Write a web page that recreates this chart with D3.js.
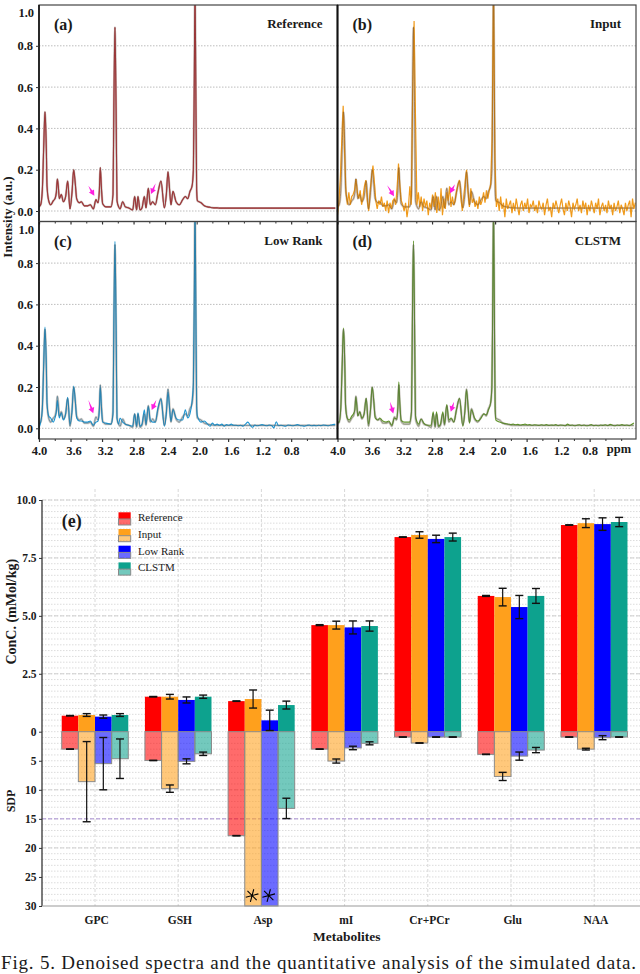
<!DOCTYPE html>
<html>
<head>
<meta charset="utf-8">
<script src="https://cdn.jsdelivr.net/npm/d3@7"></script>
<style>
html, body { margin: 0; padding: 0; background: #fff; overflow: hidden; }
text { font-family: "Liberation Serif", serif; fill: #1a1a1a; }
</style>
</head>
<body>
<div id="chart"></div>
<script>
// spectra
const peakPpm = [
	4.00,3.979,3.958,3.941,3.924,3.907,3.898,3.877,3.852,3.818,
	3.797,3.78,3.767,3.755,3.742,3.717,3.691,3.662,3.636,3.607,
	3.581,3.56,3.539,3.522,3.488,3.463,3.425,3.382,3.349,3.31,
	3.277,3.251,3.234,3.222,3.209,3.192,3.15,3.086,3.061,3.05,
	3.036,3.022,3.01,2.989,2.972,2.938,2.904,2.862,2.811,2.786,
	2.761,2.744,2.718,2.693,2.663,2.642,2.613,2.587,2.558,2.524,
	2.49,2.452,2.409,2.384,2.363,2.342,2.325,2.30,2.261,2.219,
	2.177,2.143,2.113,2.084,2.058,2.041,2.03,2.02,2.01,1.999,
	1.99,1.944,1.902
];
const tailPpm = [
	1.86,1.83,1.80,1.77,1.74,1.71,1.68,1.65,1.62,1.59,
	1.56,1.53,1.50,1.47,1.44,1.41,1.38,1.35,1.32,1.29,
	1.26,1.23,1.20,1.17,1.14,1.11,1.08,1.05,1.02,0.99,
	0.96,0.93,0.90,0.87,0.84,0.81,0.78,0.75,0.72,0.69,
	0.66,0.63,0.60,0.57,0.54,0.51,0.48,0.45,0.42,0.39,
	0.36,0.33,0.30,0.27,0.24
];
const ppm = peakPpm.concat(tailPpm);

const referenceVals = [
	.02,.03,.10,.30,.48,.30,.12,.05,.03,.05,
	.06,.09,.155,.12,.06,.08,.045,.07,.145,.01,
	.09,.20,.13,.06,.04,.045,.025,.025,.03,.01,
	.055,.04,.10,.21,.12,.035,.02,.02,.08,.5,
	.89,.5,.05,.02,.01,.045,.02,.015,.005,.07,
	.005,.07,.005,.015,.07,.015,.11,.03,.045,.03,
	.09,.145,.015,.08,.19,.10,.03,.095,.045,.03,
	.055,.07,.06,.095,.12,.20,.6,1.08,.6,.10,
	.05,.04,.025,
	.02,.018,.016,.015,.015,.014,.014,.014,.014,.014,
	.014,.014,.014,.014,.014,.014,.014,.014,.014,.014,
	.014,.014,.014,.014,.014,.014,.014,.014,.014,.014,
	.014,.014,.014,.014,.014,.014,.014,.014,.014,.014,
	.014,.014,.014,.014,.014,.014,.014,.014,.014,.014,
	.014,.014,.014,.014,.014
];
const lowRankVals = [
	.00,.03,.09,.30,.49,.30,.12,.06,.05,.03,
	.05,.08,.135,.09,.05,.075,.04,.07,.15,.02,
	.08,.205,.13,.05,.035,.035,.03,.03,.035,.015,
	.03,.035,.09,.20,.11,.03,.025,.02,.07,.5,
	.905,.5,.05,.02,.05,.03,.02,.015,.01,.07,
	.01,.075,.01,.02,.09,.02,.105,.04,.03,.03,
	.10,.14,.01,.07,.175,.09,.035,.09,.05,.04,
	.04,.09,.05,.07,.13,.22,.6,1.08,.6,.10,
	.06,.03,.035,
	.02,.01,.025,.015,.02,.015,.02,.01,.018,.015,
	.02,.015,.015,.012,.015,.01,.02,.03,.015,.005,
	.016,.012,.015,.018,.015,.012,.016,.014,.002,.032,
	.012,.015,.012,.01,.016,.014,.012,.015,.018,.014,
	.012,.01,.014,.016,.012,.014,.012,.015,.013,.016,
	.014,.012,.016,.018,.02
];
const clstmVals = [
	.03,.03,.10,.30,.486,.30,.11,.05,.04,.06,
	.07,.09,.15,.11,.06,.08,.05,.07,.145,.02,
	.09,.20,.13,.05,.04,.05,.035,.03,.035,.015,
	.05,.045,.10,.225,.12,.04,.03,.03,.08,.5,
	.908,.5,.06,.03,.02,.045,.025,.015,.015,.08,
	.01,.08,.01,.02,.08,.02,.115,.04,.05,.03,
	.09,.145,.01,.08,.185,.10,.025,.09,.05,.035,
	.05,.07,.065,.09,.12,.20,.6,1.08,.6,.09,
	.04,.03,.025,
	.022,.02,.018,.02,.017,.019,.016,.018,.02,.016,
	.018,.015,.017,.016,.014,.017,.015,.018,.014,.016,
	.015,.018,.013,.016,.015,.012,.02,.014,.016,.012,
	.015,.017,.013,.016,.012,.014,.018,.013,.015,.012,
	.016,.014,.017,.013,.019,.015,.012,.016,.014,.018,
	.014,.016,.013,.018,.026
];
// input is noisy, sampled every 0.018 ppm from 4.0
const inputStep = 0.018;
const inputVals = [
	-.02,.05,.16,.34,.51,.28,.09,.03,.09,.03,
	.07,.08,.10,.155,.09,.06,.10,.03,.07,.12,
	.15,.05,.00,.10,.16,.22,.14,.05,.01,.05,
	.03,.07,.02,.04,.00,.05,-.01,.04,.01,.05,
	.06,.03,.11,.23,.12,.05,.03,.00,.04,-.03,
	.02,.12,.03,.55,.92,.45,.03,.09,.02,.07,
	.00,.06,.02,.05,-.02,.04,.01,.08,.02,.09,
	-.01,.07,.00,.11,-.02,.06,.01,.09,.05,.12,
	.02,.07,.03,.05,.10,.13,.15,.06,.00,.07,
	.14,.20,.09,.02,.11,.04,.06,.02,.05,.01,
	.07,.03,.05,.09,.04,.10,.06,.10,.13,.35,
	1.08,.25,.02,.06,.00,.07,.01,.04,-.03,.06,
	.01,.03,.05,-.01,.04,.00,.06,.02,-.02,.03,
	.05,.00,.04,.01,.06,-.01,.03,.02,.05,.00,
	.03,-.01,.05,.02,.01,.04,-.02,.03,.06,.00,
	.02,-.03,.04,.01,.05,.02,-.01,.03,.06,.01,
	-.02,.04,.00,.05,.02,-.03,.04,.01,.03,.06,
	.00,.03,-.01,.05,.01,.04,-.02,.03,.00,.05,
	.02,-.01,.04,.01,.06,-.02,.02,.04,.00,.03,
	-.01,.05,.01,.03,-.02,.04,.00,.02,.05,-.01,
	.03,.01,-.02,.04,.00,.03,.05,-.03,.06,.01,.04
];

const spectrumTicks = [4.0, 3.6, 3.2, 2.8, 2.4, 2.0, 1.6, 1.2, 0.8];
const minorTicks = [3.8, 3.4, 3.0, 2.6, 2.2, 1.8, 1.4, 1.0, 0.6, 0.4];
const intensityTicks = [0, 0.2, 0.4, 0.6, 0.8];

// arrows as [ppm tail, intensity tail, ppm head, intensity head]
const arrowsA = [[3.374,.122,3.298,.074],[2.519,.134,2.579,.082]];
const arrowsB = [[3.37,.125,3.283,.072],[2.509,.13,2.572,.086]];
const arrowsC = [[3.374,.137,3.311,.073],[2.511,.137,2.57,.089]];
const arrowsD = [[3.334,.129,3.292,.072],[2.52,.129,2.563,.08]];

// bar chart values
const metabolites = ["GPC", "GSH", "Asp", "mI", "Cr+PCr", "Glu", "NAA"];
const methods = ["Reference", "Input", "Low Rank", "CLSTM"];
const methodColors = ["#ff0000", "#ffa01c", "#0000ff", "#0da28e"];

const concReference = [.69, 1.51, 1.32, 4.60, 8.40, 5.86, 8.92];
const concInput = [.72, 1.51, 1.41, 4.60, 8.49, 5.81, 9.00];
const concLowRank = [.65, 1.37, .49, 4.50, 8.32, 5.38, 8.96];
const concClstm = [.72, 1.51, 1.15, 4.56, 8.40, 5.86, 9.05];
const concErrReference = [.01, .01, .01, .02, .01, .02, .01];
const concErrInput = [.06, .10, .39, .17, .14, .38, .19];
const concErrLowRank = [.07, .13, .44, .28, .16, .50, .27];
const concErrClstm = [.06, .07, .17, .22, .17, .32, .20];

const sdpReference = [3.0, 4.95, 17.9, 3.0, .92, 3.9, .92];
const sdpInput = [8.6, 9.8, 30, 5.05, 1.95, 7.7, 3.0];
const sdpLowRank = [5.5, 5.1, 30, 2.8, .92, 4.2, 1.03];
const sdpClstm = [4.65, 3.8, 13.2, 2.0, .92, 3.16, .92];
const sdpErrReference = [.03, .03, .03, .03, .03, .03, .03];
const sdpErrInput = [6.9, .63, 0, .35, .03, .7, .15];
const sdpErrLowRank = [4.5, .43, 0, .3, .03, .7, .35];
const sdpErrClstm = [3.4, .29, 1.75, .26, .03, .45, .03];

const concTicks = [0, 2.5, 5, 7.5, 10];
const sdpTicks = [5, 10, 15, 20, 25, 30];

const width = 640, height = 974;
const svg = d3.select("#chart").append("svg")
	.attr("width", width)
	.attr("height", height)
	.style("display", "block");

let clipCount = 0;

function drawSpectrum(settings) {
	let { left, top, bottom, right, zeroY, color, series, arrows, letter, name, xLabels } = settings;

	let x = d3.scaleLinear().domain([4.0, 4.0 - (right - left) / 78.8]).range([left, right]);
	let y = d3.scaleLinear().domain([0, 1]).range([zeroY, zeroY - 206.5]);

	let g = svg.append("g");
	let clipId = "clip" + (clipCount++);
	g.append("clipPath").attr("id", clipId)
		.append("rect").attr("x", left).attr("y", top).attr("width", right - left).attr("height", bottom - top);

	g.selectAll("line.grid").data(intensityTicks).enter().append("line")
		.attr("x1", left).attr("x2", right)
		.attr("y1", d => y(d)).attr("y2", d => y(d))
		.attr("stroke", "#bdbdbd").attr("stroke-width", 1).attr("stroke-dasharray", "1.5,1.5");

	let smooth = d3.line().x(d => x(d[0])).y(d => y(d[1])).curve(d3.curveMonotoneX);
	let seriesLine = settings.noisy ? d3.line().x(d => x(d[0])).y(d => y(d[1])) : smooth;
	let plot = g.append("g").attr("clip-path", "url(#" + clipId + ")");

	// pale reference underneath, it fills the narrow peaks
	plot.append("path").attr("d", smooth(d3.zip(ppm, referenceVals)))
		.attr("fill", "none").attr("stroke", "#cfcac6").attr("stroke-width", 2.4);
	plot.append("path").attr("d", seriesLine(series))
		.attr("fill", "none").attr("stroke", color).attr("stroke-width", settings.noisy ? 1.2 : 1.1);
	plot.append("path").attr("d", smooth(d3.zip(ppm, referenceVals)))
		.attr("fill", "none").attr("stroke", settings.overlay).attr("stroke-opacity", .6).attr("stroke-width", 1);

	arrows.forEach(a => {
		let x0 = x(a[0]), y0 = y(a[1]), x1 = x(a[2]), y1 = y(a[3]);
		let len = Math.hypot(x1 - x0, y1 - y0), ux = (x1 - x0) / len, uy = (y1 - y0) / len;
		let bx = x1 - ux * 5.5, by = y1 - uy * 5.5;
		g.append("path")
			.attr("d", d3.line()([
				[x0, y0], [bx - uy * 1, by + ux * 1], [bx - uy * 3, by + ux * 3], [x1, y1],
				[bx + uy * 3, by - ux * 3], [bx + uy * 1, by - ux * 1]
			]) + "Z")
			.attr("fill", "#ff1fe0");
	});

	// frame
	g.append("rect").attr("x", left).attr("y", top).attr("width", right - left).attr("height", bottom - top)
		.attr("fill", "none").attr("stroke", "#444").attr("stroke-width", 1.2);
	g.append("line").attr("x1", left).attr("x2", left).attr("y1", top).attr("y2", bottom)
		.attr("stroke", "#111").attr("stroke-width", settings.leftWidth);

	let minorAxis = g.append("g").attr("transform", "translate(0," + bottom + ")")
		.call(d3.axisBottom(x).tickValues(minorTicks).tickSize(2).tickFormat(""));
	minorAxis.select(".domain").remove();
	minorAxis.selectAll("line").attr("stroke", "#333");

	let xAxis = g.append("g").attr("transform", "translate(0," + bottom + ")")
		.call(d3.axisBottom(x).tickValues(spectrumTicks).tickSize(3).tickPadding(4).tickFormat(d3.format(".1f")));
	xAxis.select(".domain").remove();
	xAxis.selectAll("line").attr("stroke", "#333").attr("stroke-width", 1.2);
	xAxis.selectAll("text")
		.attr("font-family", "Liberation Serif").attr("font-size", 12.5).attr("font-weight", "bold")
		.attr("dx", d => (d == 4.0 || d == 0.8) ? 0 : 3)
		.style("display", xLabels ? null : "none");

	if (settings.yLabels) {
		let yAxis = g.append("g").attr("transform", "translate(" + left + ",0)")
			.call(d3.axisLeft(y).tickValues(intensityTicks).tickSize(3).tickPadding(3).tickFormat(d3.format(".1f")));
		yAxis.select(".domain").remove();
		yAxis.selectAll("line").attr("stroke", "#333");
		yAxis.selectAll("text")
			.attr("font-family", "Liberation Serif").attr("font-size", 12.5).attr("font-weight", "bold");
		g.append("text").attr("x", left - 5).attr("y", top + 12)
			.attr("text-anchor", "end").attr("font-size", 12.5).attr("font-weight", "bold")
			.text("1.0");
	}

	g.append("text").attr("x", left + 15).attr("y", top + 25)
		.attr("font-size", 16).attr("font-weight", "bold").text(letter);
	g.append("text").attr("x", right - 15).attr("y", top + 23)
		.attr("text-anchor", "end").attr("font-size", 13).attr("font-weight", "bold").text(name);
}

const refSeries = d3.zip(ppm, referenceVals);
const inputSeries = inputVals.map((v, i) => [4.0 - i * inputStep, v]);

drawSpectrum({ left: 39, right: 337.5, top: 5, bottom: 221.5, zeroY: 211, color: "#a8242a", overlay: "#8d4a48",
	series: refSeries, arrows: arrowsA, letter: "(a)", name: "Reference", yLabels: true, xLabels: false, leftWidth: 1.6 });
drawSpectrum({ left: 337.5, right: 636, top: 5, bottom: 221.5, zeroY: 211, color: "#f09a1a", overlay: "#8a5a20", noisy: true,
	series: inputSeries, arrows: arrowsB, letter: "(b)", name: "Input", yLabels: false, xLabels: false, leftWidth: 2 });
drawSpectrum({ left: 39, right: 337.5, top: 221.5, bottom: 439, zeroY: 428.3, color: "#1b94d2", overlay: "#3b6f8a",
	series: d3.zip(ppm, lowRankVals), arrows: arrowsC, letter: "(c)", name: "Low Rank", yLabels: true, xLabels: true, leftWidth: 1.6 });
drawSpectrum({ left: 337.5, right: 636, top: 221.5, bottom: 439, zeroY: 428.3, color: "#5f9428", overlay: "#5d7548",
	series: d3.zip(ppm, clstmVals), arrows: arrowsD, letter: "(d)", name: "CLSTM", yLabels: false, xLabels: true, leftWidth: 2 });

svg.append("text").attr("transform", "translate(12,217) rotate(-90)")
	.attr("text-anchor", "middle").attr("font-size", 13).attr("font-weight", "bold")
	.text("Intensity (a.u.)");
svg.append("text").attr("x", 619).attr("y", 452.5)
	.attr("text-anchor", "middle").attr("font-size", 12.5).attr("font-weight", "bold").text("ppm");

// bar panel
const barLeft = 42, barRight = 640, barZero = 731.7;
const xGroup = d3.scaleBand().domain(metabolites).range([53.4, 635.8]).paddingInner(.2).paddingOuter(.1);
const xMethod = d3.scaleBand().domain(methods).range([0, xGroup.bandwidth()]);
const yConc = d3.scaleLinear().domain([0, 10]).range([barZero, 500]);
const ySdp = d3.scaleLinear().domain([0, 30]).range([barZero, 906]);

const bars = svg.append("g");

const concMinor = d3.range(0, 10.01, .25);
const sdpMinor = d3.range(1, 30, 1);
bars.selectAll("line.minor-conc").data(concMinor).enter().append("line")
	.attr("x1", barLeft).attr("x2", barRight).attr("y1", d => yConc(d)).attr("y2", d => yConc(d))
	.attr("stroke", "#dcdcdc").attr("stroke-dasharray", "1.5,1.5");
bars.selectAll("line.minor-sdp").data(sdpMinor).enter().append("line")
	.attr("x1", barLeft).attr("x2", barRight).attr("y1", d => ySdp(d)).attr("y2", d => ySdp(d))
	.attr("stroke", "#dcdcdc").attr("stroke-dasharray", "1.5,1.5");
bars.selectAll("line.major-conc").data(concTicks.slice(1)).enter().append("line")
	.attr("x1", barLeft).attr("x2", barRight).attr("y1", d => yConc(d)).attr("y2", d => yConc(d))
	.attr("stroke", "#cfcfcf").attr("stroke-width", 1).attr("stroke-dasharray", "4,2");
bars.selectAll("line.major-sdp").data([10, 20]).enter().append("line")
	.attr("x1", barLeft).attr("x2", barRight).attr("y1", d => ySdp(d)).attr("y2", d => ySdp(d))
	.attr("stroke", "#cfcfcf").attr("stroke-width", 1).attr("stroke-dasharray", "4,2");
bars.selectAll("line.vert").data(metabolites).enter().append("line")
	.attr("x1", d => xGroup(d) + xGroup.bandwidth() / 2).attr("x2", d => xGroup(d) + xGroup.bandwidth() / 2)
	.attr("y1", 489).attr("y2", 906)
	.attr("stroke", "#d8d8d8").attr("stroke-width", 1).attr("stroke-dasharray", "3,2");

bars.append("line").attr("x1", barLeft).attr("x2", barRight).attr("y1", ySdp(15)).attr("y2", ySdp(15))
	.attr("stroke", "#a58bd0").attr("stroke-dasharray", "4,2");

const concSeries = [concReference, concInput, concLowRank, concClstm];
const concErrs = [concErrReference, concErrInput, concErrLowRank, concErrClstm];
const sdpSeries = [sdpReference, sdpInput, sdpLowRank, sdpClstm];
const sdpErrs = [sdpErrReference, sdpErrInput, sdpErrLowRank, sdpErrClstm];

function errorBar(parent, cx, yLow, yHigh) {
	let stroke = "#111";
	parent.append("line").attr("x1", cx).attr("x2", cx).attr("y1", yLow).attr("y2", yHigh)
		.attr("stroke", stroke).attr("stroke-width", 1.2);
	[yLow, yHigh].forEach(yy => {
		parent.append("line").attr("x1", cx - 4).attr("x2", cx + 4).attr("y1", yy).attr("y2", yy)
			.attr("stroke", stroke).attr("stroke-width", 1.4);
	});
}

methods.forEach((method, m) => {
	let color = methodColors[m];
	bars.selectAll("rect.conc" + m).data(metabolites).enter().append("rect")
		.attr("x", d => xGroup(d) + xMethod(method))
		.attr("width", xMethod.bandwidth())
		.attr("y", (d, i) => yConc(concSeries[m][i]))
		.attr("height", (d, i) => barZero - yConc(concSeries[m][i]))
		.attr("fill", color);
	bars.selectAll("rect.sdp" + m).data(metabolites).enter().append("rect")
		.attr("x", d => xGroup(d) + xMethod(method))
		.attr("width", xMethod.bandwidth())
		.attr("y", barZero)
		.attr("height", (d, i) => ySdp(sdpSeries[m][i]) - barZero)
		.attr("fill", color).attr("fill-opacity", .58)
		.attr("stroke", "#8a8a8a").attr("stroke-width", 1);
});

methods.forEach((method, m) => {
	metabolites.forEach((name, i) => {
		let cx = xGroup(name) + xMethod(method) + xMethod.bandwidth() / 2;
		let c = concSeries[m][i], ce = concErrs[m][i];
		errorBar(bars, cx, yConc(c - ce), yConc(c + ce));
		let s = sdpSeries[m][i], se = sdpErrs[m][i];
		if (se > 0) errorBar(bars, cx, ySdp(s - se), ySdp(s + se));
		else {
			bars.append("path")
				.attr("d", d3.symbol(d3.symbolAsterisk, 120)())
				.attr("transform", "translate(" + (cx - 1) + "," + ySdp(28.2) + ") rotate(15)")
				.attr("fill", "none").attr("stroke", "#000").attr("stroke-width", 1.1);
		}
	});
});

bars.append("line").attr("x1", barLeft).attr("x2", barLeft).attr("y1", 500).attr("y2", 906)
	.attr("stroke", "#444").attr("stroke-width", 1.4);
bars.append("line").attr("x1", barLeft).attr("x2", barRight).attr("y1", 906).attr("y2", 906)
	.attr("stroke", "#9a9a9a").attr("stroke-width", 1.2);

function styleAxis(sel) {
	sel.select(".domain").remove();
	sel.selectAll("line").attr("stroke", "#333");
	sel.selectAll("text")
		.attr("font-family", "Liberation Serif").attr("font-size", 11.5).attr("font-weight", "bold");
}

bars.append("g").attr("transform", "translate(" + barLeft + ",0)")
	.call(d3.axisLeft(yConc).tickValues(concTicks).tickSize(3).tickPadding(2.5)
		.tickFormat(d => d == 0 ? "0" : d3.format(".1f")(d)))
	.call(styleAxis);
bars.append("g").attr("transform", "translate(" + barLeft + ",0)")
	.call(d3.axisLeft(ySdp).tickValues(sdpTicks).tickSize(3).tickPadding(2.5))
	.call(styleAxis);

bars.selectAll("text.metabolite").data(metabolites).enter().append("text")
	.attr("x", d => xGroup(d) + xGroup.bandwidth() / 2 + 1.7)
	.attr("y", 924)
	.attr("text-anchor", "middle").attr("font-size", 11.5).attr("font-weight", "bold")
	.text(d => d);

bars.append("text").attr("x", 346.7).attr("y", 941)
	.attr("text-anchor", "middle").attr("font-size", 13.5).attr("font-weight", "bold").text("Metabolites");
bars.append("text").attr("transform", "translate(16,611.7) rotate(-90)")
	.attr("text-anchor", "middle").attr("font-size", 14).attr("font-weight", "bold").text("ConC. (mMol/kg)");
bars.append("text").attr("transform", "translate(15,801) rotate(-90)")
	.attr("text-anchor", "middle").attr("font-size", 12).attr("font-weight", "bold").text("SDP");
bars.append("text").attr("x", 61.7).attr("y", 527)
	.attr("font-size", 18).attr("font-weight", "bold").text("(e)");

// legend
const legend = bars.selectAll("g.legend").data(methods).enter().append("g")
	.attr("transform", (d, i) => "translate(118.5," + (512.3 + i * 16.7) + ")");
legend.append("rect").attr("width", 12.2).attr("height", 6.7).attr("fill", (d, i) => methodColors[i]);
legend.append("rect").attr("y", 6.7).attr("width", 12.2).attr("height", 6)
	.attr("fill", (d, i) => methodColors[i]).attr("fill-opacity", .58)
	.attr("stroke", "#8a8a8a");
legend.append("text").attr("x", 19.5).attr("y", 9)
	.attr("font-size", 11).text(d => d);

svg.append("text").attr("x", 1).attr("y", 969)
	.attr("font-size", 19).attr("textLength", 635).attr("lengthAdjust", "spacing")
	.attr("fill", "#222")
	.text("Fig. 5. Denoised spectra and the quantitative analysis of the simulated data.");
</script>
</body>
</html>
